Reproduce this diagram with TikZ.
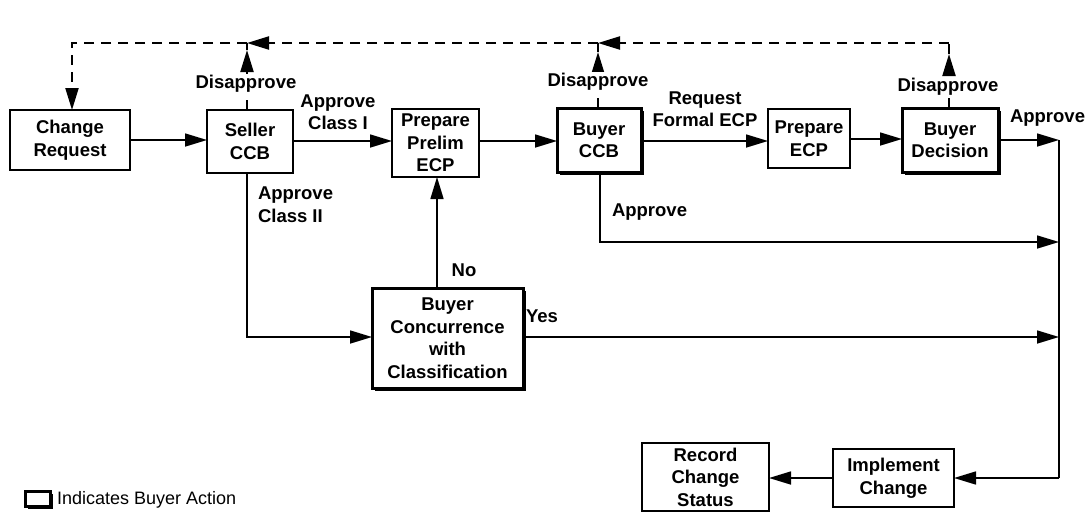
\documentclass[tikz,border=0pt]{standalone}
\usepackage{fontspec}
\setmainfont{Liberation Sans}
\usetikzlibrary{arrows.meta,shadows}
\begin{document}
\begin{tikzpicture}[x=1pt,y=-1pt,
  every node/.style={font=\fontsize{18.5}{22.5}\selectfont\bfseries, align=center, inner sep=0pt, outer sep=0pt},
  sellerbox/.style={draw, line width=1.7pt, fill=white},
  buyerbox/.style={draw, line width=3pt, fill=white,
    drop shadow={shadow xshift=2.5pt, shadow yshift=-2.5pt, fill=black, opacity=1}},
  tip/.style={-{Triangle[length=22pt,width=13pt]}},
  flow/.style={line width=1.6pt},
  dline/.style={line width=2.1pt, dash pattern=on 10pt off 7pt},
  lbl/.style={fill=white, inner sep=1pt}]
\useasboundingbox (0,0) rectangle (1087,512);

% process boxes
\node[sellerbox, minimum width=120pt, minimum height=60pt] (cr) at (70,140) {Change\\Request};
\node[sellerbox, minimum width=86pt, minimum height=63pt] (sccb) at (250,141.5) {Seller\\CCB};
\node[sellerbox, minimum width=87pt, minimum height=68pt] (ppe) at (435.5,143) {Prepare\\Prelim\\ECP};
\node[buyerbox, minimum width=84pt, minimum height=64pt] (bccb) at (599,140) {Buyer\\CCB};
\node[sellerbox, minimum width=82pt, minimum height=59pt] (pecp) at (809,138.5) {Prepare\\ECP};
\node[buyerbox, minimum width=96pt, minimum height=64pt] (bd) at (950,140) {Buyer\\Decision};
\node[buyerbox, minimum width=151pt, minimum height=100pt] (bcc) at (447.5,338) {Buyer\\Concurrence\\with\\Classification};
\node[sellerbox, minimum width=121pt, minimum height=58pt] (ic) at (893.5,478) {Implement\\Change};
\node[sellerbox, minimum width=127pt, minimum height=68pt] (rcs) at (705.5,477) {Record\\Change\\Status};

% junction points on the right-hand collector line and the disapproval loop
\coordinate (j1) at (1059,140);
\coordinate (j2) at (1059,242);
\coordinate (j3) at (1059,337);
\coordinate (j4) at (1059,478);
\coordinate (t0) at (72,43);
\coordinate (t1) at (247,43);
\coordinate (t2) at (598,43);
\coordinate (t3) at (949,43);
\coordinate (u1) at (247,50);
\coordinate (u2) at (598,52);
\coordinate (u3) at (949,54);

% main flow
\draw[flow,tip] (cr.east |- 0,140) -- (sccb.west |- 0,140);
\draw[flow,tip] (sccb.east |- 0,141) -- (ppe.west |- 0,141);
\draw[flow,tip] (ppe.east |- 0,141) -- (bccb.west |- 0,141);
\draw[flow,tip] (bccb.east |- 0,141) -- (pecp.west |- 0,141);
\draw[flow,tip] (pecp.east |- 0,139) -- (bd.west |- 0,139);
\draw[flow,tip] (bd.east |- j1) -- (j1);
\draw[flow,tip] (bccb.south -| 600,0) |- (j2);
\draw[flow,tip] (sccb.south -| 247,0) |- (bcc.west |- 0,337);
\draw[flow,tip] (bcc.north -| 437,0) -- (ppe.south -| 437,0);
\draw[flow,tip] (bcc.east |- j3) -- (j3);
\draw[flow] (j1) -- (j4);
\draw[flow,tip] (j4) -- (ic.east |- j4);
\draw[flow,tip] (ic.west |- 0,478) -- (rcs.east |- 0,478);

% disapproval loop back to the change request
\draw[dline,tip] (bd.north -| u3) -- (u3);
\draw[dline] (u3) -- (t3);
\draw[dline,tip] (t3) -- (t2);
\draw[dline,tip] (bccb.north -| u2) -- (u2);
\draw[dline] (u2) -- (t2);
\draw[dline,tip] (t2) -- (t1);
\draw[dline,tip] (sccb.north -| u1) -- (u1);
\draw[dline] (u1) -- (t1);
\draw[dline,tip] (t1) -- (t0) -- (cr.north -| t0);

% connector labels
\node[lbl] (dis1) at (246,84) {Disapprove};
\node[lbl] (dis2) at (598,82) {Disapprove};
\node[lbl] (dis3) at (948,87) {Disapprove};
\node (ac1) at (338,112) {Approve\\Class I};
\node[anchor=north west, align=left] (ac2) at (258,187) {Approve\\Class II};
\node (rfe) at (705,109) {Request\\Formal ECP};
\node[anchor=west] (ap1) at (612,212) {Approve};
\node[anchor=west] (ap2) at (1010,118) {Approve};
\node (no) at (464,270) {No};
\node (yes) at (542,316) {Yes};

% legend
\node[buyerbox, minimum width=25pt, minimum height=15pt, line width=2.6pt] (leg) at (38,499) {};
\node[anchor=west, font=\fontsize{18}{22}\selectfont] (legtext) at (57,500) {Indicates Buyer Action};
\end{tikzpicture}
\end{document}
